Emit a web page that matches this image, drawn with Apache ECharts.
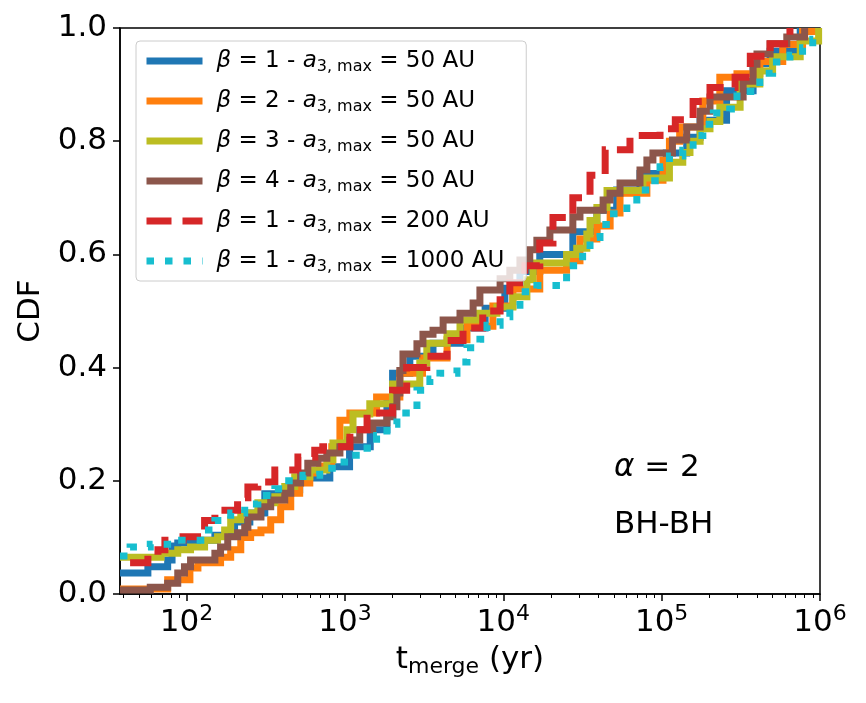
<!DOCTYPE html>
<html>
<head>
<meta charset="utf-8">
<script src="https://cdn.jsdelivr.net/npm/echarts@6/dist/echarts.min.js"></script>
<style>
  html, body { margin: 0; padding: 0; background: #fff; }
  #main { width: 866px; height: 703px; }
</style>
</head>
<body>
<div id="main"></div>
<script>
// legend labels
var betas = [1, 2, 3, 4, 1, 1];
var aMax = [50, 50, 50, 50, 200, 1000];
var colors = ['#1f77b4', '#ff7f0e', '#bcbd22', '#8c564b', '#d62728', '#17becf'];

// x tick labels (yr)
var xMajor = [100, 1000, 10000, 100000, 1000000];

// CDF curves: merge time (yr) and CDF value
var blueT = [38, 57, 76, 81, 88, 118, 151, 201, 251, 312, 388, 518, 803, 1070, 1445, 1842, 2000, 2570, 3600, 5370, 7680, 10230, 12740, 17000, 27500, 39000, 52000, 73000, 107000, 144000, 175000, 257000, 378000, 484000, 750000, 900000];
var blueF = [0.037, 0.048, 0.06, 0.085, 0.09, 0.095, 0.104, 0.127, 0.143, 0.177, 0.184, 0.205, 0.225, 0.26, 0.29, 0.345, 0.39, 0.42, 0.443, 0.47, 0.505, 0.54, 0.57, 0.60, 0.64, 0.678, 0.714, 0.743, 0.779, 0.807, 0.837, 0.889, 0.937, 0.959, 0.994, 1.0];

var orangeT = [38, 76, 105, 118, 164, 190, 220, 254, 295, 340, 393, 455, 518, 600, 693, 826, 930, 1075, 1585, 2223, 3090, 4415, 5900, 8600, 11500, 17000, 25100, 30500, 39000, 47300, 54600, 80700, 102000, 112000, 130000, 182000, 233000, 299000, 417000, 582000, 776000, 920000];
var orangeF = [0.009, 0.025, 0.046, 0.055, 0.065, 0.078, 0.10, 0.108, 0.113, 0.131, 0.154, 0.178, 0.196, 0.214, 0.226, 0.26, 0.307, 0.32, 0.348, 0.39, 0.417, 0.449, 0.473, 0.509, 0.539, 0.572, 0.589, 0.627, 0.65, 0.673, 0.708, 0.731, 0.767, 0.80, 0.825, 0.871, 0.913, 0.919, 0.941, 0.971, 0.994, 1.0];

var oliveT = [38, 69, 88, 106, 130, 157, 174, 190, 220, 282, 361, 417, 482, 600, 769, 840, 1030, 1125, 1436, 2000, 2970, 3290, 4415, 5330, 6820, 9120, 11500, 14100, 15400, 25100, 29100, 33700, 35300, 39000, 45200, 76200, 112000, 136000, 151000, 175000, 202000, 233000, 313000, 417000, 502000, 750000, 980000];
var oliveF = [0.065, 0.072, 0.078, 0.083, 0.095, 0.101, 0.113, 0.131, 0.143, 0.161, 0.172, 0.19, 0.207, 0.219, 0.237, 0.267, 0.29, 0.318, 0.336, 0.371, 0.408, 0.443, 0.46, 0.484, 0.496, 0.507, 0.525, 0.555, 0.585, 0.60, 0.611, 0.636, 0.66, 0.683, 0.713, 0.735, 0.763, 0.78, 0.80, 0.822, 0.835, 0.86, 0.901, 0.924, 0.949, 0.977, 1.0];

var brownT = [38, 59, 76, 88, 97, 106, 151, 164, 182, 210, 233, 244, 295, 340, 417, 455, 525, 583, 675, 769, 930, 1075, 1241, 1500, 1842, 2010, 2130, 2223, 2326, 2850, 3110, 3600, 4170, 5330, 6450, 7120, 9550, 11000, 12740, 14700, 16300, 19700, 27500, 30500, 42700, 47200, 54600, 73000, 80700, 88100, 117000, 144000, 175000, 202000, 327000, 378000, 400000, 484000, 617000, 800000];
var brownF = [0.007, 0.012, 0.019, 0.037, 0.048, 0.06, 0.072, 0.083, 0.101, 0.108, 0.118, 0.136, 0.154, 0.166, 0.178, 0.196, 0.214, 0.231, 0.24, 0.249, 0.26, 0.272, 0.29, 0.302, 0.313, 0.331, 0.355, 0.395, 0.424, 0.442, 0.459, 0.466, 0.484, 0.496, 0.514, 0.537, 0.557, 0.572, 0.59, 0.608, 0.625, 0.643, 0.666, 0.678, 0.696, 0.708, 0.726, 0.749, 0.767, 0.779, 0.802, 0.825, 0.853, 0.878, 0.906, 0.936, 0.954, 0.972, 0.984, 1.0];

var redT = [44, 57, 66, 73, 95, 130, 151, 210, 244, 282, 361, 505, 645, 725, 1075, 1380, 2000, 2455, 3290, 4415, 5570, 7420, 9550, 11000, 13700, 17000, 20600, 27500, 35300, 44000, 63100, 97700, 122000, 158000, 202000, 291000, 363000, 484000, 646000];
var redF = [0.055, 0.069, 0.078, 0.095, 0.101, 0.13, 0.148, 0.17, 0.189, 0.198, 0.219, 0.242, 0.254, 0.26, 0.29, 0.32, 0.36, 0.40, 0.42, 0.448, 0.47, 0.50, 0.52, 0.55, 0.58, 0.62, 0.665, 0.70, 0.74, 0.785, 0.81, 0.822, 0.838, 0.87, 0.895, 0.913, 0.95, 0.972, 1.0];

var cyanT = [38, 44, 59, 80, 123, 151, 190, 233, 282, 361, 417, 543, 693, 888, 1075, 1380, 1585, 1842, 2130, 2850, 3440, 3980, 5100, 5900, 7120, 7890, 9550, 11000, 12740, 16300, 22800, 25100, 31700, 35300, 40800, 47200, 60300, 69700, 84100, 97700, 112000, 136000, 158000, 182000, 212000, 269000, 299000, 417000, 502000, 646000, 776000, 900000, 965000];
var cyanF = [0.067, 0.083, 0.088, 0.095, 0.113, 0.13, 0.143, 0.159, 0.174, 0.186, 0.2, 0.21, 0.222, 0.233, 0.245, 0.258, 0.28, 0.3, 0.32, 0.36, 0.38, 0.39, 0.41, 0.435, 0.45, 0.475, 0.49, 0.51, 0.534, 0.545, 0.55, 0.58, 0.607, 0.63, 0.653, 0.672, 0.69, 0.714, 0.73, 0.755, 0.774, 0.784, 0.81, 0.83, 0.85, 0.857, 0.888, 0.92, 0.94, 0.952, 0.965, 0.98, 0.99];

var curveT = [blueT, orangeT, oliveT, brownT, redT, cyanT];
var curveF = [blueF, orangeF, oliveF, brownF, redF, cyanF];
var dashes = ['solid', 'solid', 'solid', 'solid', [25, 11], [7.5, 11]];

function pairs(ts, fs) {
    var out = [];
    for (var i = 0; i < ts.length; i++) out.push([ts[i], fs[i]]);
    return out;
}

// minor ticks at 2..9 x 10^k
var xMinor = [];
for (var k = 1; k < 6; k++) {
    for (var m = 2; m < 10; m++) {
        var v = m * Math.pow(10, k);
        if (v >= 38 && v <= 1e6) xMinor.push(v);
    }
}

var FONT = 'DejaVu Sans';
var names = [];
var series = [];
for (var i = 0; i < 6; i++) {
    var nm = 'beta' + betas[i] + '_a' + aMax[i];
    names.push(nm);
    series.push({
        name: nm,
        type: 'line',
        step: 'end',
        symbol: 'none',
        clip: true,
        data: pairs(curveT[i], curveF[i]),
        lineStyle: { color: colors[i], width: 7, type: dashes[i], cap: 'butt', join: 'miter' },
        itemStyle: { color: colors[i] },
        z: 2 + i
    });
}

var chart = echarts.init(document.getElementById('main'));
var option = {
    animation: false,
    backgroundColor: '#fff',
    textStyle: { fontFamily: FONT },
    grid: { left: 120, right: 46, top: 28, bottom: 109, show: true, borderColor: '#000', borderWidth: 1.5, backgroundColor: 'transparent' },
    legend: {
        orient: 'vertical',
        left: 136, top: 41,
        data: names,
        itemWidth: 56, itemHeight: 14, itemGap: 12,
        padding: [6, 22, 6, 7],
        backgroundColor: 'rgba(255,255,255,0.8)',
        borderColor: '#cccccc', borderWidth: 1, borderRadius: 4,
        lineStyle: { width: 'inherit' },
        itemStyle: { opacity: 0 },
        z: 20,
        formatter: function (name) {
            var i = names.indexOf(name);
            return '{i|β} = ' + betas[i] + ' - {i|a}{sub|3, max} = ' + aMax[i] + ' AU';
        },
        textStyle: {
            fontFamily: FONT, fontSize: 23, color: '#000', lineHeight: 28, padding: [0, 0, 0, 9],
            rich: {
                i: { fontFamily: FONT, fontSize: 23, fontStyle: 'italic', color: '#000', lineHeight: 28 },
                sub: { fontFamily: FONT, fontSize: 16, color: '#000', lineHeight: 28, padding: [11, 0, 0, 0] }
            }
        }
    },
    xAxis: [{
        type: 'log',
        min: 38, max: 1e6,
        position: 'bottom',
        name: 't{sub|merge} (yr)',
        nameLocation: 'middle',
        nameGap: 48,
        nameTextStyle: {
            fontFamily: FONT, fontSize: 31, color: '#000',
            rich: { sub: { fontFamily: FONT, fontSize: 22, color: '#000', padding: [14, 0, 0, 0] } }
        },
        axisLine: { show: true, onZero: false, lineStyle: { color: '#000', width: 1.5 } },
        axisTick: { show: true, inside: false, length: 7, lineStyle: { color: '#000', width: 1.5 }, customValues: xMajor },
        axisLabel: {
            show: true, margin: 9, color: '#000', fontFamily: FONT, fontSize: 31,
            customValues: xMajor,
            formatter: function (v) {
                return '10{sup|' + Math.round(Math.log10(v)) + '}';
            },
            rich: { sup: { fontFamily: FONT, fontSize: 22, color: '#000', padding: [0, 0, 18, 0] } }
        },
        splitLine: { show: false },
        minorTick: { show: false }
    }, {
        type: 'log',
        min: 38, max: 1e6,
        position: 'bottom',
        axisLine: { show: false, onZero: false },
        axisTick: { show: true, inside: false, length: 4, lineStyle: { color: '#000', width: 1 }, customValues: xMinor },
        axisLabel: { show: false },
        splitLine: { show: false }
    }],
    yAxis: {
        type: 'value',
        min: 0, max: 1, interval: 0.2,
        name: 'CDF',
        nameLocation: 'middle',
        nameGap: 72,
        nameTextStyle: { fontFamily: FONT, fontSize: 31, color: '#000' },
        axisLine: { show: true, onZero: false, lineStyle: { color: '#000', width: 1.5 } },
        axisTick: { show: true, inside: false, length: 7, lineStyle: { color: '#000', width: 1.5 } },
        axisLabel: {
            margin: 13, color: '#000', fontFamily: FONT, fontSize: 31,
            formatter: function (v) { return v.toFixed(1); }
        },
        splitLine: { show: false }
    },
    graphic: [
        {
            type: 'text', left: 614, top: 452, z: 30,
            style: {
                text: '{i|α} = 2', fill: '#000', font: '31px "DejaVu Sans"',
                rich: { i: { fontFamily: FONT, fontSize: 31, fontStyle: 'italic', fill: '#000' } }
            }
        },
        {
            type: 'text', left: 614, top: 509, z: 30,
            style: { text: 'BH-BH', fill: '#000', font: '31px "DejaVu Sans"' }
        }
    ],
    series: series
};
chart.setOption(option);
</script>
</body>
</html>
